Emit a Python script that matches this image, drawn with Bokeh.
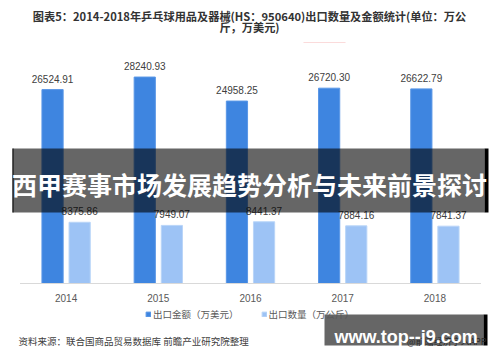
from bokeh.plotting import figure
from bokeh.models import (ColumnDataSource, FactorRange, Range1d, Label,
                          BoxAnnotation, Legend, LegendItem)
from bokeh.transform import dodge
from bokeh.core.properties import value
from bokeh.embed import file_html
from bokeh.resources import INLINE

# ---- data ----
years = ["2014", "2015", "2016", "2017", "2018"]
export_value = [26524.91, 28240.93, 24958.25, 26720.30, 26622.79]   # 万美元
export_qty = [8375.86, 7949.07, 8441.37, 7884.16, 7841.37]          # 万公斤
value_labels = ["26524.91", "28240.93", "24958.25", "26720.30", "26622.79"]
qty_labels = ["8375.86", "7949.07", "8441.37", "7884.16", "7841.37"]
series_names = ["出口金额（万美元）", "出口数量（万公斤）"]

title_line1 = "图表5：2014-2018年乒乓球用品及器械(HS：950640)出口数量及金额统计(单位：万公"
title_line2 = "斤，万美元)"
banner_text = "西甲赛事市场发展趋势分析与未来前景探讨"
source_text = "资料来源：联合国商品贸易数据库 前瞻产业研究院整理"
site_text = "www.top--j9.com"
app_text = "@前瞻经济学人APP"

# ---- layout constants (canvas pixels) ----
W, H = 500, 362
BASE = 283          # canvas y of the value axis zero
PX_PER_UNIT = 136.8  # data units per pixel on the value axis
CAT_PX = 92.2       # pixels per category
CJK = "Noto Sans CJK SC"

source = ColumnDataSource(dict(year=years, v=export_value, q=export_qty,
                               vl=value_labels, ql=qty_labels))

pad = (W / CAT_PX - len(years)) / len(years)
p = figure(width=W, height=H,
           x_range=FactorRange(*years, range_padding=pad),
           y_range=Range1d(-(H - BASE) * PX_PER_UNIT, BASE * PX_PER_UNIT),
           output_backend="svg", toolbar_location=None,
           x_axis_location=None, y_axis_location=None, title=None,
           min_border=0)
p.outline_line_color = None
p.xgrid.visible = False
p.ygrid.visible = False
p.background_fill_color = "white"
p.border_fill_color = "white"

off = 0.147
bw = 0.23
r1 = p.vbar(x=dodge("year", -off, range=p.x_range), top="v", width=bw,
            source=source, fill_color="#3E85E0", line_color="#5A97E6", line_width=1)
r2 = p.vbar(x=dodge("year", off, range=p.x_range), top="q", width=bw,
            source=source, fill_color="#9DC3F5", line_color="#B9D5F8", line_width=1)

# category axis: baseline and year labels
p.segment(x0=[(years[0], -0.5)], x1=[(years[-1], 0.5)], y0=[0], y1=[0],
          line_color="#D9D9D9", line_width=1)
p.text(x="year", y=0, text="year", source=source, text_align="center",
       text_baseline="middle", y_offset=14,
       text_font=value("Liberation Sans"), text_font_size=value("10px"),
       text_color="#595959")

# value labels
p.text(x=dodge("year", -off, range=p.x_range), y="v", text="vl", source=source,
       text_align="center", text_baseline="middle", y_offset=-11,
       text_font=value("Liberation Sans"), text_font_size=value("10px"),
       text_color="#404040")
p.text(x=dodge("year", off, range=p.x_range), y="q", text="ql", source=source,
       text_align="center", text_baseline="middle", y_offset=-11,
       text_font=value("Liberation Sans"), text_font_size=value("10px"),
       text_color="#404040")

legend = Legend(items=[LegendItem(label=series_names[0], renderers=[r1]),
                       LegendItem(label=series_names[1], renderers=[r2])],
                orientation="horizontal", location=(145, H - 321),
                border_line_color=None, background_fill_alpha=0,
                label_text_font=CJK, label_text_font_size="9.5px",
                label_text_color="#595959", glyph_width=6, glyph_height=6,
                label_standoff=2, spacing=22, padding=0, margin=0,
                label_height=10)
p.add_layout(legend, "center")


def sy(cy):
    return H - cy


def box(l, r, t, b, color, alpha):
    p.add_layout(BoxAnnotation(left=l, right=r, top=sy(t), bottom=sy(b),
                               left_units="screen", right_units="screen",
                               top_units="screen", bottom_units="screen",
                               fill_color=color, fill_alpha=alpha,
                               line_color=None, level="overlay"))


def label(cx, cy, text, size, color, font=CJK, style="normal",
          align="center", baseline="middle"):
    p.add_layout(Label(x=cx, y=sy(cy), x_units="screen", y_units="screen",
                       text=text, text_align=align, text_baseline=baseline,
                       text_font=font, text_font_size=size,
                       text_font_style=style, text_color=color, level="overlay"))


# title
label(249, 15, title_line1, "11.2px", "#333333", style="bold")
label(249, 26, title_line2, "11.2px", "#333333", style="bold")

# small dotted red mark under the title
p.add_layout(BoxAnnotation(left=303, right=345, top=sy(42), bottom=sy(42),
                           left_units="screen", right_units="screen",
                           top_units="screen", bottom_units="screen",
                           fill_alpha=0, line_color="#F08080", line_width=1,
                           line_dash="1 1", level="overlay"))

# source
label(18, 340, source_text, "9.5px", "#404040", align="left")

# banner
box(12, 484, 148, 212, "black", 0.6)
box(12, 13, 148, 212, "black", 1.0)
box(484, 488, 148, 212, "black", 1.0)
label(249, 183, banner_text, "25px", "white", style="bold")

# watermark box
box(324, 483, 314, 345, "black", 0.6)
box(483, 487, 314, 345, "black", 1.0)
label(486, 341, app_text, "9px", "#2A2A2A", align="right")
label(334, 336, site_text, "18px", "white", font="Liberation Sans",
      style="bold", align="left", baseline="alphabetic")

open("out.html", "w").write(file_html(p, INLINE))
